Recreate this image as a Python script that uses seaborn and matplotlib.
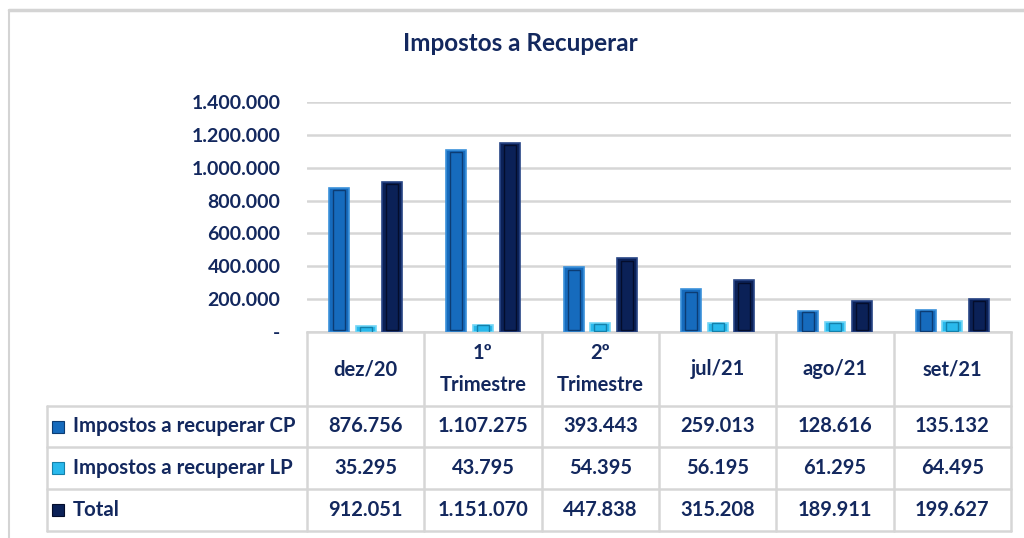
import numpy as np
import pandas as pd
import matplotlib
matplotlib.use("Agg")
import matplotlib.pyplot as plt
import matplotlib.transforms as mtransforms
from matplotlib.patches import Rectangle
import seaborn as sns

# data
periods = ["dez/20", "1º\nTrimestre", "2º\nTrimestre", "jul/21", "ago/21", "set/21"]
series_names = ["Impostos a recuperar CP", "Impostos a recuperar LP", "Total"]
cp_values = [876756, 1107275, 393443, 259013, 128616, 135132]
lp_values = [35295, 43795, 54395, 56195, 61295, 64495]
total_values = [912051, 1151070, 447838, 315208, 189911, 199627]
y_ticks = [0, 200000, 400000, 600000, 800000, 1000000, 1200000, 1400000]

colors = ["#166bbd", "#29b9ec", "#0b2157"]
edge_light = ["#3b91da", "#73d6f6", "#284585"]
edge_dark = ["#0c3c73", "#1480aa", "#040d2b"]
text_color = "#13285e"
line_color = "#d6d6d6"

sns.set_theme(style="white")
plt.rcParams["font.family"] = ["Lato", "DejaVu Sans"]
plt.rcParams["font.weight"] = "bold"

df = pd.DataFrame({
    "period": periods * 3,
    "serie": np.repeat(series_names, len(periods)),
    "value": cp_values + lp_values + total_values,
})

fig = plt.figure(figsize=(10.24, 5.38), dpi=100)
ax = fig.add_axes([307 / 1024, 1 - 332 / 538, 704 / 1024, 230 / 538])

sns.barplot(data=df, x="period", y="value", hue="serie", order=periods,
            hue_order=series_names, palette=colors, width=0.68, gap=0.25,
            saturation=1, legend=False, ax=ax, zorder=3)

# bevel look on bars
for i, cont in enumerate(ax.containers):
    for p in cont.patches:
        p.set_edgecolor(edge_light[i])
        p.set_linewidth(1.2)
        w, h = p.get_width(), p.get_height()
        x0, y0 = p.get_x(), p.get_y()
        inset_w = w * 0.2
        inset_h = min(h * 0.06, 14000)
        if h > 30000:
            ax.add_patch(Rectangle((x0 + inset_w, y0 + inset_h), w - 2 * inset_w,
                                   h - 2 * inset_h, facecolor="none",
                                   edgecolor=edge_dark[i], linewidth=1.0, zorder=4))

ax.set_xlim(-0.5, len(periods) - 0.5)
ax.set_ylim(0, 1400000)
ax.set_yticks(y_ticks)
ax.set_yticklabels(["-" if v == 0 else f"{v:,.0f}".replace(",", ".") for v in y_ticks],
                   fontsize=14, color=text_color, fontweight="bold")
ax.tick_params(axis="y", length=0, pad=19)
ax.set_xticks([])
ax.set_xlabel("")
ax.set_ylabel("")
ax.grid(axis="y", color=line_color, linewidth=1.8, zorder=0)
for s in ["left", "right", "top"]:
    ax.spines[s].set_visible(False)
ax.spines["bottom"].set_color(line_color)
ax.spines["bottom"].set_linewidth(1.8)

fig.suptitle("Impostos a Recuperar", x=0.508, y=0.94, fontsize=17.5,
             color=text_color, fontweight="bold")

# data table under the chart
trans_x = ax.get_xaxis_transform()
trans_fig = mtransforms.blended_transform_factory(fig.transFigure, ax.transAxes)
row_edges = [0, -74 / 230, -115 / 230, -157 / 230, -199 / 230]
row_centers = [(row_edges[k] + row_edges[k + 1]) / 2 for k in range(4)]
col_edges = np.arange(len(periods) + 1) - 0.5
table_left = 47 / 1024

for xe in col_edges:
    ax.plot([xe, xe], [0, row_edges[-1]], transform=trans_x, color=line_color,
            lw=1.8, clip_on=False)
for ye in row_edges[1:]:
    ax.plot([table_left, 1011 / 1024], [ye, ye], transform=trans_fig,
            color=line_color, lw=1.8, clip_on=False)
ax.plot([table_left, table_left], [row_edges[1], row_edges[-1]], transform=trans_fig,
        color=line_color, lw=1.8, clip_on=False)

for j, lab in enumerate(periods):
    ax.text(j, row_centers[0], lab, transform=trans_x, ha="center", va="center",
            fontsize=14.5, color=text_color, fontweight="bold", linespacing=1.75)

rows = [cp_values, lp_values, total_values]
sq_h = 12 / 230
for r, (name, vals) in enumerate(zip(series_names, rows)):
    yc = row_centers[r + 1]
    fig.add_artist(Rectangle((52 / 1024, yc - sq_h / 2), 12 / 1024, sq_h,
                             transform=trans_fig, facecolor=colors[r],
                             edgecolor=edge_dark[r], lw=0.8))
    ax.text(73 / 1024, yc, name, transform=trans_fig, ha="left", va="center",
            fontsize=14.7, color=text_color, fontweight="bold")
    for j, v in enumerate(vals):
        ax.text(j, yc, f"{v:,.0f}".replace(",", "."), transform=trans_x,
                ha="center", va="center", fontsize=14.5, color=text_color,
                fontweight="bold")

# outer chart border
fig.add_artist(plt.Line2D([9 / 1024, 1], [1 - 10 / 538, 1 - 10 / 538],
                          transform=fig.transFigure, color="#d4d4d4", lw=2.5))
fig.add_artist(plt.Line2D([9 / 1024, 9 / 1024], [0, 1 - 10 / 538],
                          transform=fig.transFigure, color="#d4d4d4", lw=1.5))

fig.savefig("out.png", dpi=100, facecolor="white")
